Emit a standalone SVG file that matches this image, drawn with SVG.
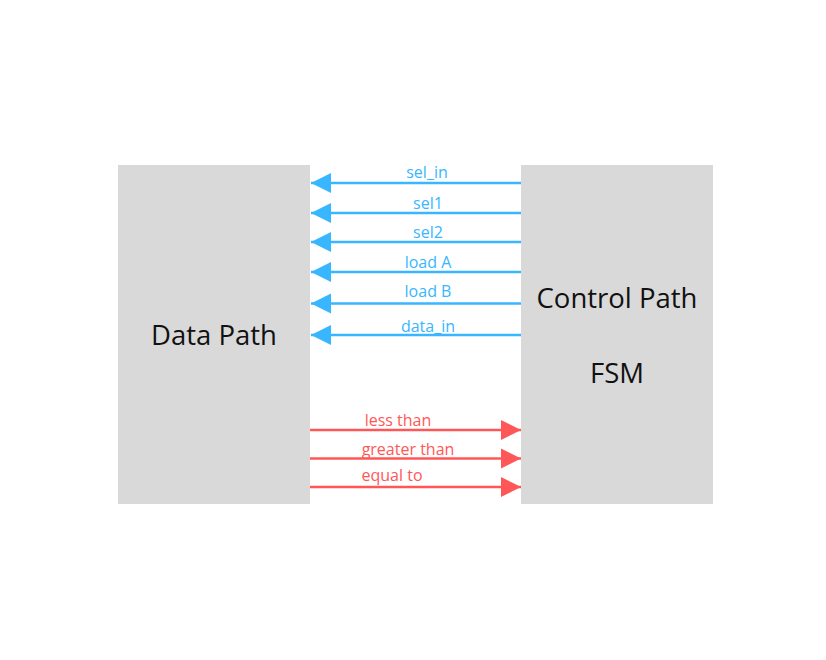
<svg xmlns="http://www.w3.org/2000/svg" width="826" height="660" viewBox="0 0 826 660">
<defs>
<style>
.box{fill:#d9d9d9}
.big{font-family:"Open Sans","Liberation Sans",sans-serif;font-size:27.5px;fill:#111;text-anchor:middle}
.lb{font-family:"Open Sans","Liberation Sans",sans-serif;font-size:16px;text-anchor:middle}
.b{stroke:#38b6ff;stroke-width:2.5;fill:none}
.r{stroke:#ff5757;stroke-width:2.5;fill:none}
.bt{fill:#38b6ff}
.rt{fill:#ff5757}
</style>
<marker id="ab" viewBox="0 0 10 10" refX="10" refY="5" markerUnits="userSpaceOnUse" markerWidth="20" markerHeight="21" orient="auto"><path d="M0,0L10,5L0,10z" fill="#38b6ff"/></marker>
<marker id="ar" viewBox="0 0 10 10" refX="10" refY="5" markerUnits="userSpaceOnUse" markerWidth="20" markerHeight="21" orient="auto"><path d="M0,0L10,5L0,10z" fill="#ff5757"/></marker>
</defs>
<rect width="826" height="660" fill="#fff"/>
<g id="datapath"><rect class="box" x="118" y="165" width="192" height="339"/><text class="big" x="214" y="345">Data Path</text></g>
<g id="controlpath"><rect class="box" x="521" y="165" width="192" height="339"/><text class="big" x="617" y="308">Control Path</text><text class="big" x="617" y="383">FSM</text></g>
<g id="connectors">
<path class="b" d="M521,183H311" marker-end="url(#ab)"/>
<path class="b" d="M521,213H311" marker-end="url(#ab)"/>
<path class="b" d="M521,242H311" marker-end="url(#ab)"/>
<path class="b" d="M521,272H311" marker-end="url(#ab)"/>
<path class="b" d="M521,303.5H311" marker-end="url(#ab)"/>
<path class="b" d="M521,335H311" marker-end="url(#ab)"/>
<path class="r" d="M310,430H521" marker-end="url(#ar)"/>
<path class="r" d="M310,458.5H521" marker-end="url(#ar)"/>
<path class="r" d="M310,487H521" marker-end="url(#ar)"/>
</g>
<g id="labels">
<text class="lb bt" x="427" y="178">sel_in</text>
<text class="lb bt" x="428" y="209">sel1</text>
<text class="lb bt" x="428" y="238">sel2</text>
<text class="lb bt" x="428" y="268">load A</text>
<text class="lb bt" x="428" y="297">load B</text>
<text class="lb bt" x="428" y="332">data_in</text>
<text class="lb rt" x="398" y="426">less than</text>
<text class="lb rt" x="408" y="455">greater than</text>
<text class="lb rt" x="392" y="481">equal to</text>
</g>
</svg>
